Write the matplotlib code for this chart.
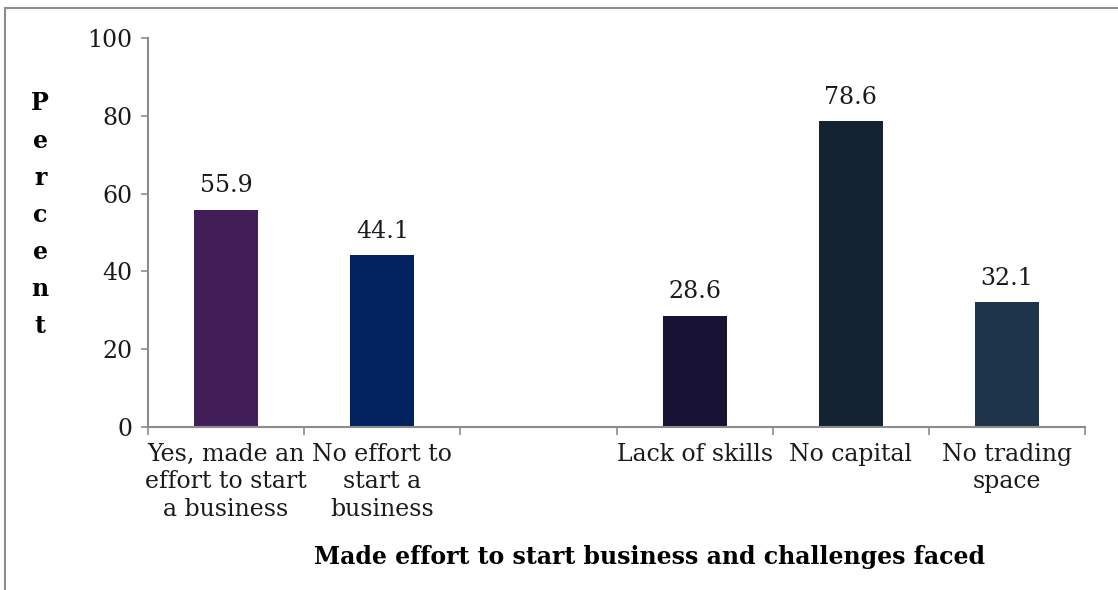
import numpy as np
import matplotlib.pyplot as plt
from matplotlib.lines import Line2D

# categories, with an empty slot separating the two groups
categories = ["Yes, made an\neffort to start\na business",
              "No effort to\nstart a\nbusiness",
              "",
              "Lack of skills",
              "No capital",
              "No trading\nspace"]
values = [55.9, 44.1, None, 28.6, 78.6, 32.1]
bar_colors = ["#411E58", "#02215F", None, "#171134", "#132331", "#1D344B"]
yticks = [0, 20, 40, 60, 80, 100]

plt.rcParams['font.family'] = ['DejaVu Serif']
axis_gray = "#8C8C8C"
fs = 17

fig = plt.figure(figsize=(11.18, 5.9), dpi=100)
ax = fig.add_axes([0.1324, 0.2763, 0.8381, 0.6593])

x = np.arange(len(categories))
for xi, v, c in zip(x, values, bar_colors):
    if v is None:
        continue
    ax.bar(xi, v, width=0.41, color=c, zorder=2)
    ax.annotate("%.1f" % v, (xi, v), xytext=(0, 9), textcoords="offset points",
                ha="center", va="bottom", fontsize=fs, color="#1a1a1a")

ax.set_xlim(-0.5, len(categories) - 0.5)
ax.set_ylim(0, 100)
ax.set_yticks(yticks)
ax.tick_params(axis="y", labelsize=fs, length=5, width=1.2, color=axis_gray,
               pad=6, labelcolor="#1a1a1a")

# category labels sit centred under each slot, ticks sit on the boundaries
ax.set_xticks(np.arange(len(categories) + 1) - 0.5)
ax.set_xticklabels([])
ax.tick_params(axis="x", length=6, width=1.2, color=axis_gray)
for xi, lab in zip(x, categories):
    ax.text(xi, -4.0, lab, ha="center", va="top", fontsize=fs,
            linespacing=1.26, color="#1a1a1a", transform=ax.transData)

for s in ["top", "right"]:
    ax.spines[s].set_visible(False)
for s in ["left", "bottom"]:
    ax.spines[s].set_color(axis_gray)
    ax.spines[s].set_linewidth(1.5)

fig.text(0.581, 0.056, "Made effort to start business and challenges faced",
         ha="center", va="center", fontsize=fs, fontweight="bold")
fig.text(0.036, 0.636, "P\ne\nr\nc\ne\nn\nt", ha="center", va="center",
         fontsize=fs, fontweight="bold", linespacing=1.69)

# outer frame (top and left edges visible)
fig.add_artist(Line2D([0.0045, 1.0], [0.987, 0.987], transform=fig.transFigure,
                      color=axis_gray, lw=1.5))
fig.add_artist(Line2D([0.0045, 0.0045], [0.0, 0.987], transform=fig.transFigure,
                      color=axis_gray, lw=1.5))

fig.savefig("out.png", dpi=100)
